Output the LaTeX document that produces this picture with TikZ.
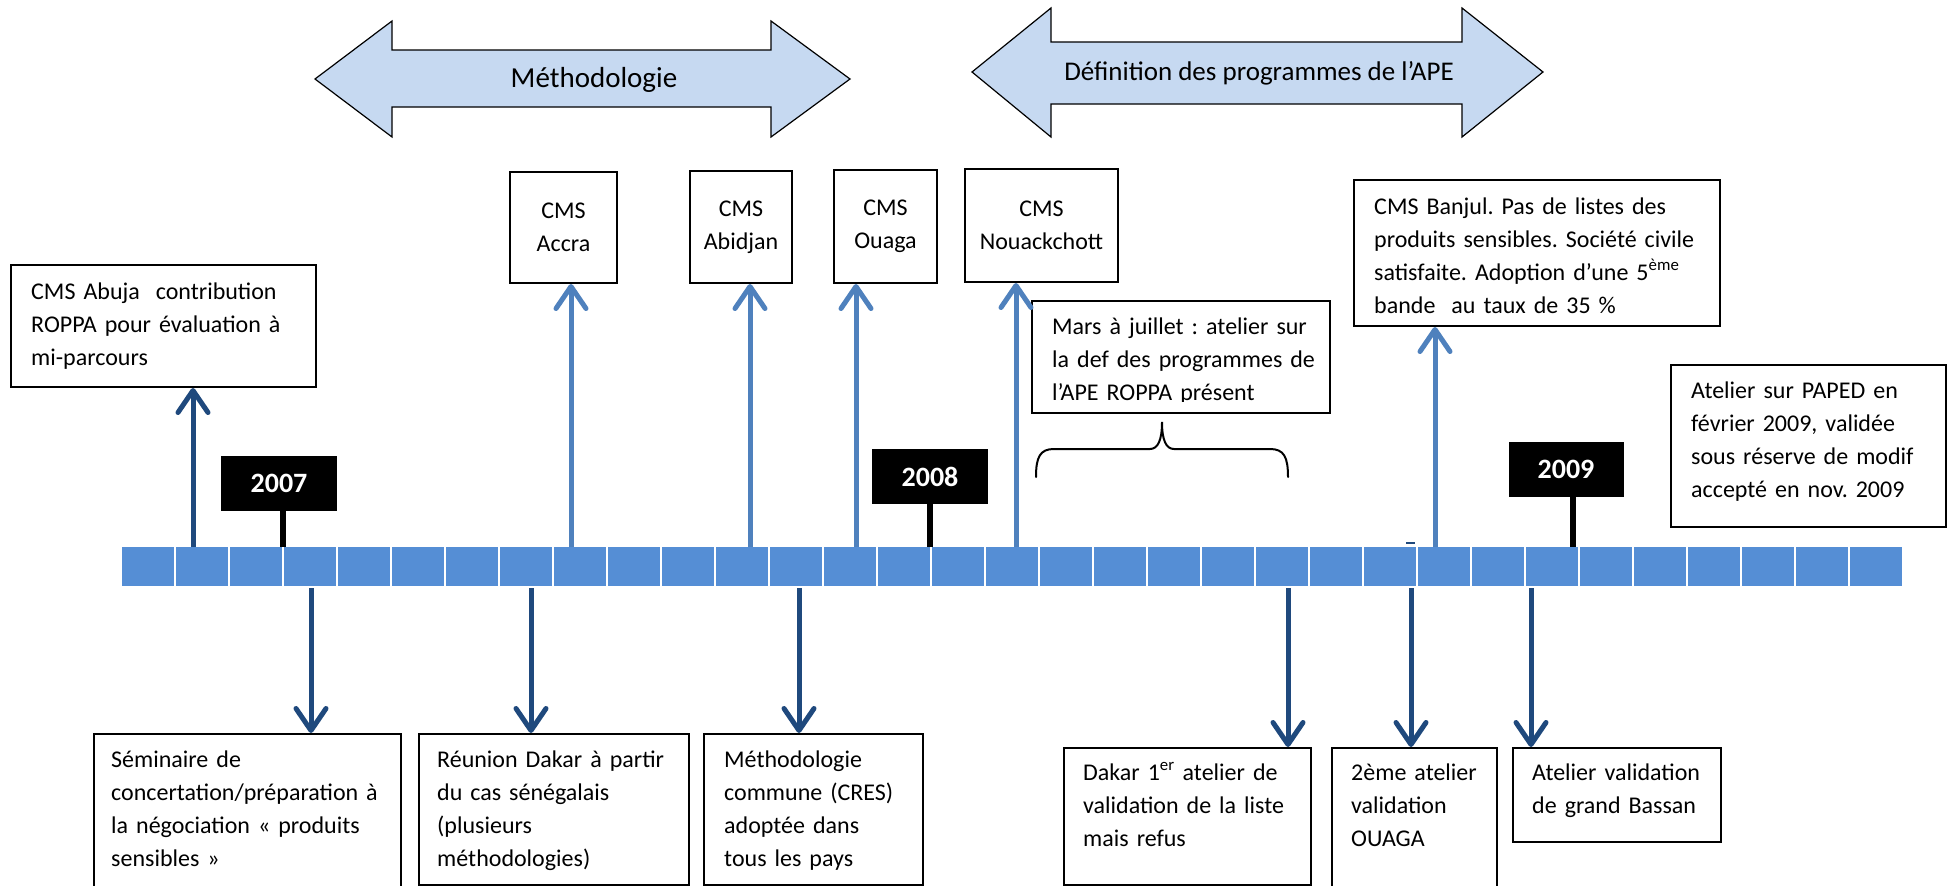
\documentclass[tikz,border=0pt]{standalone}
\usepackage{fontspec}
\setmainfont{Carlito}
\frenchspacing
\usetikzlibrary{arrows.meta,calc}
\definecolor{darkarr}{RGB}{31,73,125}
\definecolor{lightarr}{RGB}{79,129,189}
\definecolor{cellblue}{RGB}{85,142,213}
\definecolor{bannerblue}{RGB}{198,217,241}
\tikzset{
  boxframe/.style={draw=black, line width=2pt, fill=white, inner sep=0pt, anchor=north west},
  boxtext/.style={font=\fontsize{24}{33}\selectfont, align=left, anchor=base west, inner sep=0pt},
  cmsbox/.style={draw=black, line width=2pt, fill=white, inner sep=0pt, anchor=north west,
     align=center, font=\fontsize{24}{33}\selectfont},
  yeartag/.style={fill=black, text=white, inner sep=0pt, font=\bfseries\fontsize{28}{32}\selectfont},
  stemline/.style={line width=6pt, draw=black},
  darkup/.style={line width=5pt, draw=darkarr, -{Straight Barb[length=22pt,width=30pt,round]}},
  lightup/.style={line width=5pt, draw=lightarr, -{Straight Barb[length=22pt,width=30pt,round]}},
  darkdown/.style={line width=5pt, draw=darkarr, -{Straight Barb[length=22pt,width=30pt,round]}},
  bannerarrow/.style={fill=bannerblue, draw=black, line width=1.2pt, line join=miter},
  bannertext/.style={font=\fontsize{27}{32}\selectfont, inner sep=0pt},
}
\begin{document}
\begin{tikzpicture}[x=1pt,y=-1pt]
\clip (0,0) rectangle (1955,886);
\fill[white] (0,0) rectangle (1955,886);

% banner arrows
\draw[bannerarrow] (315,79) -- (392,21) -- (392,50) -- (771,50) -- (771,21) -- (850,79)
   -- (771,137) -- (771,107) -- (392,107) -- (392,137) -- cycle;
\node[bannertext, font=\fontsize{29}{34}\selectfont] (methT) at (594,80) {Méthodologie};
\draw[bannerarrow] (972,72) -- (1051,8) -- (1051,42) -- (1462,42) -- (1462,8) -- (1543,72)
   -- (1462,137) -- (1462,104) -- (1051,104) -- (1051,137) -- cycle;
\node[bannertext] (defT) at (1259,73) {Définition des programmes de l’APE};

% timeline bar
\foreach \i in {0,...,32} {
  \fill[cellblue] ({122+54*\i},547) rectangle +(52,39);
}

% anchor points on the bar
\coordinate (pAbuja) at (193,547);
\coordinate (pAccra) at (571,547);
\coordinate (pAbidjan) at (750,547);
\coordinate (pOuaga) at (856,547);
\coordinate (pNouak) at (1016,547);
\coordinate (pBanjul) at (1435,547);
\coordinate (s2007) at (283,547);
\coordinate (s2008) at (930,547);
\coordinate (s2009) at (1573,547);
\coordinate (dSem) at (311,588);
\coordinate (dReu) at (531,588);
\coordinate (dMeth) at (799,588);
\coordinate (dDakar) at (1288,588);
\coordinate (dOuaga) at (1411,588);
\coordinate (dBassan) at (1531,588);

% small mark above bar
\draw[darkarr, line width=1.2pt] (1406,543) -- (1415,543);

% year tags
\node[yeartag, minimum width=116pt, minimum height=55pt] (y2007) at (279,483.5) {2007};
\node[yeartag, minimum width=116pt, minimum height=55pt] (y2008) at (930,476.5) {2008};
\node[yeartag, minimum width=115pt, minimum height=55pt] (y2009) at (1566,469.5) {2009};
\draw[stemline] (s2007 |- y2007.south) -- (s2007);
\draw[stemline] (s2008 |- y2008.south) -- (s2008);
\draw[stemline] (s2009 |- y2009.south) -- (s2009);

% upper boxes
\node[boxframe, minimum width=305pt, minimum height=122pt] (abuja) at (10,264) {};
\node[boxtext, text width=280pt] (abujaT) at (31,299)
  {CMS Abuja\ \ contribution\\ROPPA pour évaluation à\\mi-parcours};

\node[cmsbox, minimum width=107pt, minimum height=111pt] (accra) at (509,171) {CMS\\Accra};
\node[cmsbox, minimum width=102pt, minimum height=112pt] (abidjan) at (689,170) {CMS\\Abidjan};
\node[cmsbox, minimum width=103pt, minimum height=113pt] (ouaga) at (833,169) {CMS\\Ouaga};
\node[cmsbox, minimum width=153pt, minimum height=113pt] (nouak) at (964,168) {CMS\\Nouackchott};

\node[boxframe, minimum width=298pt, minimum height=112pt] (mars) at (1031,300) {};
\begin{scope}
  \clip (1032,301) rectangle (1328,401);
  \node[boxtext, text width=274pt] (marsT) at (1052,334)
    {Mars à juillet : atelier sur\\la def des programmes de\\l’APE ROPPA présent};
\end{scope}

\node[boxframe, minimum width=366pt, minimum height=146pt] (banjul) at (1353,179) {};
\node[boxtext, text width=342pt] (banjulT) at (1374,214)
  {CMS Banjul. Pas de listes des\\produits sensibles. Société civile\\satisfaite. Adoption d’une 5\textsuperscript{ème}\\bande\ \ au taux de 35 \%};

\node[boxframe, minimum width=275pt, minimum height=162pt] (paped) at (1670,364) {};
\node[boxtext, text width=252pt] (papedT) at (1691,398)
  {Atelier sur PAPED en\\février 2009, validée\\sous réserve de modif\\accepté en nov. 2009};

% brace
\draw[line width=2pt, line cap=round] (1036,477) .. controls (1036,457) and (1040,449) .. (1054,449)
  -- (1150,449) .. controls (1158,449) and (1162,440) .. (1162,422)
  .. controls (1162,440) and (1166,449) .. (1174,449)
  -- (1270,449) .. controls (1284,449) and (1288,457) .. (1288,477);

% lower boxes
\node[boxframe, minimum width=307pt, minimum height=170pt] (sem) at (93,733) {};
\node[boxtext, text width=286pt] (semT) at (111,767)
  {Séminaire de\\concertation/préparation à\\la négociation « produits\\sensibles »};

\node[boxframe, minimum width=270pt, minimum height=151pt] (reu) at (418,733) {};
\node[boxtext, text width=248pt] (reuT) at (437,767)
  {Réunion Dakar à partir\\du cas sénégalais\\(plusieurs\\méthodologies)};

\node[boxframe, minimum width=219pt, minimum height=151pt] (meth) at (703,733) {};
\node[boxtext, text width=196pt] (methBT) at (724,767)
  {Méthodologie\\commune (CRES)\\adoptée dans\\tous les pays};

\node[boxframe, minimum width=247pt, minimum height=137pt] (dakar) at (1063,747) {};
\node[boxtext, text width=225pt] (dakarT) at (1083,780)
  {Dakar 1\textsuperscript{er} atelier de\\validation de la liste\\mais refus};

\node[boxframe, minimum width=165pt, minimum height=160pt] (ouagaB) at (1331,747) {};
\node[boxtext, text width=143pt] (ouagaT) at (1351,780)
  {2ème atelier\\validation\\OUAGA};

\node[boxframe, minimum width=208pt, minimum height=94pt] (bassan) at (1512,747) {};
\node[boxtext, text width=186pt] (bassanT) at (1532,780)
  {Atelier validation\\de grand Bassan};

% up arrows
\draw[darkup] (pAbuja) -- (pAbuja |- abuja.south);
\draw[lightup] (pAccra) -- (pAccra |- accra.south);
\draw[lightup] (pAbidjan) -- (pAbidjan |- abidjan.south);
\draw[lightup] (pOuaga) -- (pOuaga |- ouaga.south);
\draw[lightup] (pNouak) -- (pNouak |- nouak.south);
\draw[lightup] (pBanjul) -- (pBanjul |- banjul.south);

% down arrows
\draw[darkdown] (dSem) -- (dSem |- sem.north);
\draw[darkdown] (dReu) -- (dReu |- reu.north);
\draw[darkdown] (dMeth) -- (dMeth |- meth.north);
\draw[darkdown] (dDakar) -- (dDakar |- dakar.north);
\draw[darkdown] (dOuaga) -- (dOuaga |- ouagaB.north);
\draw[darkdown] (dBassan) -- (dBassan |- bassan.north);
\end{tikzpicture}
\end{document}
